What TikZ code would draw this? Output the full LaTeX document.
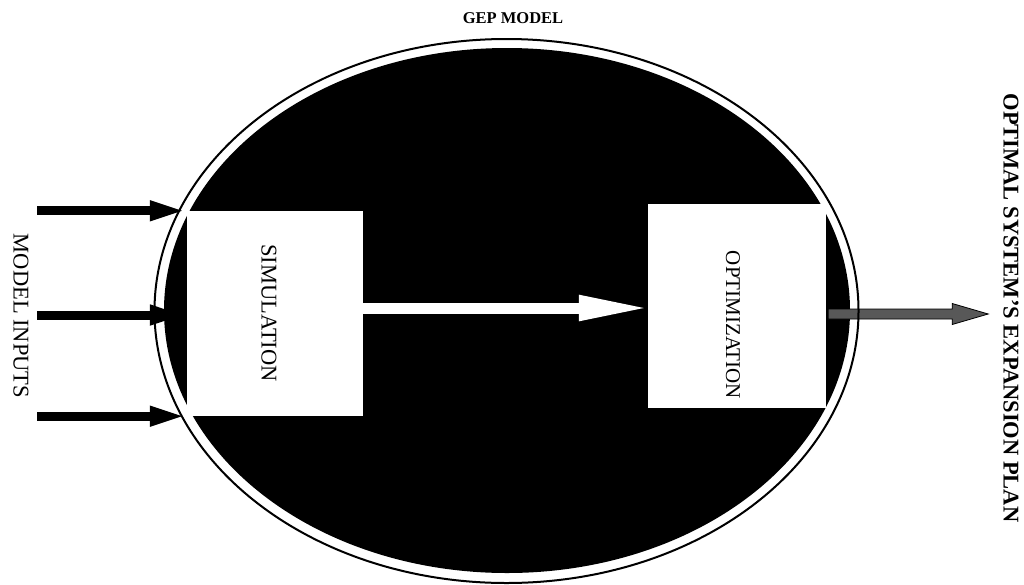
\documentclass[tikz,border=0pt]{standalone}
\usepackage{fontspec}
\setmainfont{Liberation Serif}
\usetikzlibrary{arrows.meta,calc}
\definecolor{plangray}{RGB}{88,88,88}
\begin{document}
\begin{tikzpicture}[x=1pt,y=-1pt,
  procbox/.style={fill=white, draw=none, inner sep=0pt},
  vlabel/.style={rotate=-90, inner sep=0pt, font=\fontsize{22.5}{27}\selectfont},
  vbold/.style={rotate=-90, inner sep=0pt, font=\bfseries\fontsize{22.5}{27}\selectfont},
  titlelabel/.style={inner sep=0pt, font=\bfseries\fontsize{16.5}{20}\selectfont},
  feed/.style={line width=9pt, -{Triangle[length=37pt,width=18pt]}},
  flow/.style={white, line width=11pt, -{Triangle[length=73pt,width=23pt]}},
  planarrow/.style={fill=plangray, draw=black, line width=0.8pt},
  ring/.style={draw=black, line width=2pt}]
\useasboundingbox (0,0) rectangle (1024,584);

% model body
\fill[black] (507,310.5) ellipse [x radius=343pt, y radius=262.5pt];

% process blocks
\node[procbox, minimum width=176pt, minimum height=205pt] (sim) at (275,313.5) {};
\node[procbox, minimum width=178pt, minimum height=204pt] (opt) at (737,306) {};

% labels
\node[titlelabel] (title) at (513,18) {GEP MODEL};
\node[vlabel] (simText) at (269,313) {SIMULATION};
\node[vlabel, font=\fontsize{21}{25}\selectfont] (optText) at (733,325) {OPTIMIZATION};
\node[vlabel] (inText) at (21,316) {MODEL INPUTS};
\node[vbold] (planText) at (1011,308) {OPTIMAL SYSTEM'S EXPANSION PLAN};

% simulation -> optimization
\draw[flow] ($(sim.east)+(0,-5.5)$) -- ($(opt.west)+(4,2)$);

% model inputs
\coordinate (inX) at (37,0);
\draw[feed] (inX |- sim.north west) -- (sim.north west);
\draw[feed] ($(inX |- sim.west)+(0,1.5)$) -- ($(sim.west)+(0,1.5)$);
\draw[feed] (inX |- sim.south west) -- (sim.south west);

% output plan
\draw[planarrow] ($(opt.east)+(2,3)$) -- ++(124,0) -- ++(0,-5.5) -- ++(36,10.5)
  -- ++(-36,10.5) -- ++(0,-5.5) -- ++(-124,0) -- cycle;

% outer rim
\draw[ring] (506.5,311) ellipse [x radius=352pt, y radius=272pt];
\end{tikzpicture}
\end{document}
